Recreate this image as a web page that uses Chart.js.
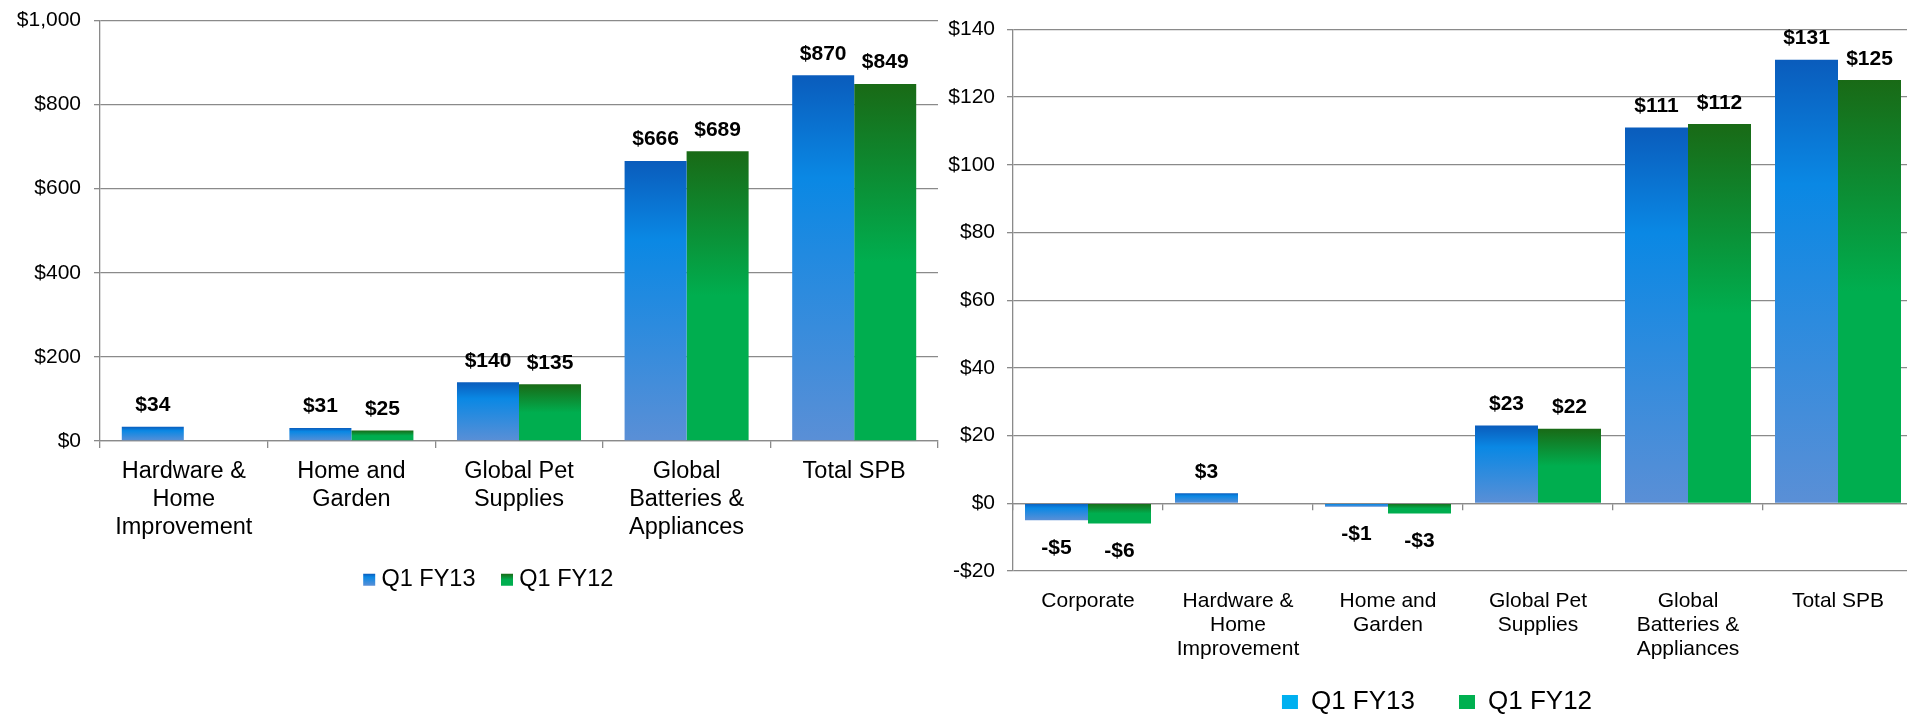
<!DOCTYPE html>
<html>
<head>
<meta charset="utf-8">
<title>Q1 FY13 vs Q1 FY12 by segment</title>
<script src="https://cdn.jsdelivr.net/npm/chart.js@4.4.1/dist/chart.umd.min.js"></script>
<style>
  html, body { margin: 0; padding: 0; background: #fff; overflow: hidden; width: 1907px; height: 715px; }
  canvas { position: absolute; top: 0; }
  #left-chart { left: 0; width: 940px; height: 715px; }
  #right-chart { left: 930px; width: 983px; height: 746px; }
</style>
</head>
<body>
<canvas id="left-chart" width="940" height="715"></canvas>
<canvas id="right-chart" width="983" height="746"></canvas>
<script>
// ---- data ----
const seriesNames = ['Q1 FY13', 'Q1 FY12'];

// left panel
const salesCategories = [
  ['Hardware &', 'Home', 'Improvement'],
  ['Home and', 'Garden'],
  ['Global Pet', 'Supplies'],
  ['Global', 'Batteries &', 'Appliances'],
  ['Total SPB'],
];
const salesFY13 = [34, 31, 140, 666, 870];
const salesFY12 = [null, 25, 135, 689, 849];
const salesTicks = [0, 200, 400, 600, 800, 1000];

// right panel
const ebitdaCategories = [
  ['Corporate'],
  ['Hardware &', 'Home', 'Improvement'],
  ['Home and', 'Garden'],
  ['Global Pet', 'Supplies'],
  ['Global', 'Batteries &', 'Appliances'],
  ['Total SPB'],
];
const ebitdaFY13 = [-5, 3, -1, 23, 111, 131];
const ebitdaFY12 = [-6, null, -3, 22, 112, 125];
const ebitdaTicks = [-20, 0, 20, 40, 60, 80, 100, 120, 140];

// ---- styles ----
const FONT = "'Liberation Sans', Arial, Helvetica, sans-serif";
const GRID = '#8a8a8a';
const GRID_W = 1.3;
const BLUE_STOPS = [[0, '#0a5cbc'], [0.28, '#0a88e4'], [1, '#5a8fd6']];
const GREEN_STOPS = [[0, '#196a16'], [0.5, '#00ae4f'], [1, '#00ae4f']];
const LEGEND_SOLID = ['#00b0f0', '#00b050'];

Chart.defaults.font.family = FONT;
Chart.defaults.color = '#000';

function money(v) {
  const s = '$' + Math.abs(v).toLocaleString('en-US');
  return v < 0 ? '-' + s : s;
}

function verticalGradient(ctx, top, bottom, stops) {
  const g = ctx.createLinearGradient(0, top, 0, Math.max(bottom, top + 1));
  stops.forEach(([at, color]) => g.addColorStop(at, color));
  return g;
}

// each bar gets its own top-to-bottom gradient
function barFill(stops) {
  return function (c) {
    const chart = c.chart;
    const v = c.parsed ? c.parsed.y : null;
    if (c.type !== 'data' || v == null || !isFinite(v) || !chart.scales.y) {
      return stops[0][1];
    }
    const a = chart.scales.y.getPixelForValue(v);
    const b = chart.scales.y.getPixelForValue(0);
    return verticalGradient(chart.ctx, Math.min(a, b), Math.max(a, b), stops);
  };
}

// bold value labels above (or below, for negatives) each bar
const valueLabels = {
  id: 'valueLabels',
  afterDatasetsDraw(chart) {
    const ctx = chart.ctx;
    ctx.save();
    ctx.font = 'bold 21px ' + FONT;
    ctx.fillStyle = '#000';
    ctx.textAlign = 'center';
    ctx.textBaseline = 'alphabetic';
    chart.data.datasets.forEach((ds, i) => {
      chart.getDatasetMeta(i).data.forEach((bar, j) => {
        const v = ds.data[j];
        if (v == null) return;
        ctx.fillText(money(v), bar.x, v < 0 ? bar.y + 33.5 : bar.y - 15.5);
      });
    });
    ctx.restore();
  }
};

// the legend sits a bit off-centre and closer to the axis labels than Chart.js would put it
const legendPlacement = {
  id: 'legendPlacement',
  afterLayout(chart, args, opts) {
    const lg = chart.legend;
    if (!lg) return;
    lg.left += opts.dx || 0;
    lg.right += opts.dx || 0;
    if (opts.top != null) {
      lg.top = opts.top;
      lg.bottom = opts.top + lg.height;
    }
  }
};

// left legend squares use the same gradients as the bars
const LEFT_LEGEND = { font: 23.5, pad: 31, box: 12 };
const legendGradient = {
  id: 'legendGradient',
  beforeDraw(chart) {
    const legend = chart.legend;
    if (!legend || !legend.legendItems) return;
    const top = legend.top + LEFT_LEGEND.pad + LEFT_LEGEND.font / 2 - LEFT_LEGEND.box / 2;
    legend.legendItems.forEach((item, i) => {
      item.fillStyle = verticalGradient(chart.ctx, top, top + LEFT_LEGEND.box, i === 0 ? BLUE_STOPS : GREEN_STOPS);
    });
  }
};

function yScale(ticks, width, padding) {
  return {
    min: ticks[0],
    max: ticks[ticks.length - 1],
    afterBuildTicks: s => { s.ticks = ticks.map(value => ({ value })); },
    grid: { color: GRID, lineWidth: GRID_W, tickLength: 6 },
    border: { color: GRID, width: GRID_W },
    // small lineHeight so the top label doesn't push the plot down
    ticks: { font: { size: 21, lineHeight: 0.6 }, padding: padding, callback: money },
    afterFit: s => { s.width = width; }
  };
}

// ---- left chart ----
new Chart(document.getElementById('left-chart'), {
  type: 'bar',
  data: {
    labels: salesCategories,
    datasets: [
      { label: seriesNames[0], data: salesFY13, backgroundColor: barFill(BLUE_STOPS) },
      { label: seriesNames[1], data: salesFY12, backgroundColor: barFill(GREEN_STOPS) },
    ],
  },
  options: {
    responsive: false,
    animation: false,
    events: [],
    layout: { padding: { top: 20.5, left: 0, right: 2, bottom: 102.5 } },
    datasets: { bar: { categoryPercentage: 0.74, barPercentage: 1 } },
    scales: {
      x: {
        offset: true,
        grid: { offset: true, drawOnChartArea: false, tickLength: 7, color: GRID, lineWidth: GRID_W },
        border: { color: GRID, width: GRID_W },
        ticks: { font: { size: 23.5, lineHeight: 1.2 }, padding: 9, maxRotation: 0, autoSkip: false },
        afterFit: s => { s.height = 107; },
      },
      y: yScale(salesTicks, 100, 13),
    },
    plugins: {
      tooltip: { enabled: false },
      legendPlacement: { dx: 22, top: 537 },
      legend: {
        position: 'bottom',
        labels: {
          font: { size: LEFT_LEGEND.font },
          padding: LEFT_LEGEND.pad,
          usePointStyle: true,
          pointStyle: 'rect',
          boxWidth: 1,
          boxHeight: LEFT_LEGEND.box,
          generateLabels: () => seriesNames.map((name, i) => ({
            text: name,
            fillStyle: i === 0 ? BLUE_STOPS[1][1] : GREEN_STOPS[1][1],
            strokeStyle: 'rgba(0,0,0,0)',
            lineWidth: 0,
            pointStyle: 'rect',
            fontColor: '#000',
            hidden: false,
            datasetIndex: i,
          })),
        },
      },
    },
  },
  plugins: [valueLabels, legendPlacement, legendGradient],
});

// ---- right chart ----
new Chart(document.getElementById('right-chart'), {
  type: 'bar',
  data: {
    labels: ebitdaCategories,
    datasets: [
      { label: seriesNames[0], data: ebitdaFY13, xAxisID: 'x', backgroundColor: barFill(BLUE_STOPS) },
      { label: seriesNames[1], data: ebitdaFY12, xAxisID: 'x', backgroundColor: barFill(GREEN_STOPS) },
    ],
  },
  options: {
    responsive: false,
    animation: false,
    events: [],
    layout: { padding: { top: 29.3, left: 0, right: 0, bottom: 0 } },
    datasets: { bar: { categoryPercentage: 0.84, barPercentage: 1 } },
    scales: {
      // category labels sit under the plot
      x: {
        offset: true,
        grid: { display: false },
        border: { display: false },
        ticks: { font: { size: 21, lineHeight: 1.15 }, padding: 10, maxRotation: 0, autoSkip: false },
        afterFit: s => { s.height = 95; },
      },
      // the axis line with its tick marks crosses at zero
      x0: {
        type: 'category',
        position: { y: 0 },
        offset: true,
        grid: { offset: true, drawOnChartArea: false, tickLength: 6, color: GRID, lineWidth: GRID_W },
        border: { color: GRID, width: GRID_W },
        ticks: { display: false },
      },
      y: yScale(ebitdaTicks, 83, 12),
    },
    plugins: {
      tooltip: { enabled: false },
      legendPlacement: { dx: 15.5, top: 645 },
      legend: {
        position: 'bottom',
        labels: {
          font: { size: 26 },
          padding: 44,
          boxWidth: 16,
          boxHeight: 14,
          generateLabels: () => seriesNames.map((name, i) => ({
            text: name,
            fillStyle: LEGEND_SOLID[i],
            strokeStyle: 'rgba(0,0,0,0)',
            lineWidth: 0,
            fontColor: '#000',
            hidden: false,
            datasetIndex: i,
          })),
        },
      },
    },
  },
  plugins: [valueLabels, legendPlacement],
});
</script>
</body>
</html>
